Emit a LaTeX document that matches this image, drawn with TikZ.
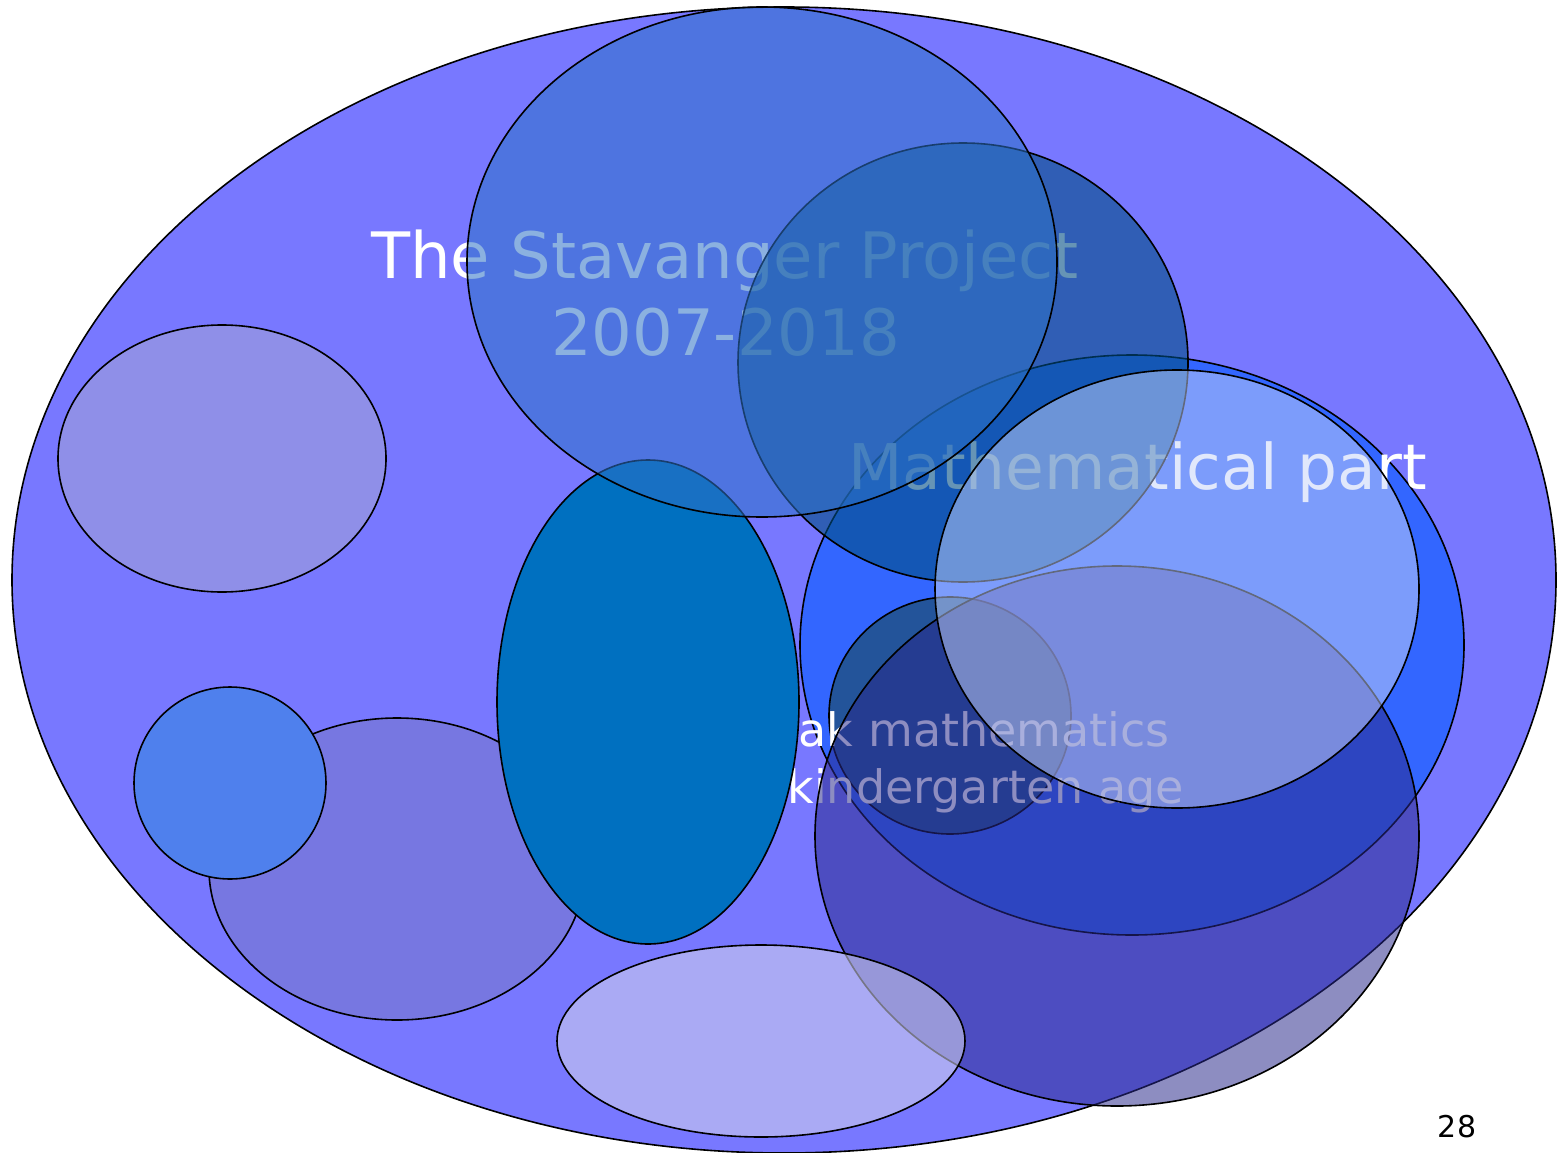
\documentclass[tikz,border=0pt]{standalone}
\usepackage{fontspec}
\setmainfont{DejaVu Sans}
\usetikzlibrary{shapes.geometric}
\definecolor{worldblue}{HTML}{7878FF}
\definecolor{ulblue}{HTML}{8F8FE8}
\definecolor{blblue}{HTML}{7777E1}
\definecolor{circblue}{HTML}{4F80ED}
\definecolor{bigblue}{HTML}{3366FF}
\definecolor{smalldark}{HTML}{23549A}
\definecolor{teal}{HTML}{0070C0}
\definecolor{navy}{HTML}{28288A}
\definecolor{deepblue}{HTML}{004E84}
\definecolor{topblue}{HTML}{2D71C7}
\definecolor{paleblue}{HTML}{C5D2F9}
\definecolor{lavender}{HTML}{D0D0EC}
\begin{document}
\begin{tikzpicture}[x=1pt,y=-1pt,
  blob/.style={ellipse, draw=black, line width=1.6pt, inner sep=0pt, outer sep=0pt},
  label/.style={text=white, inner sep=0pt}]
\fill[white] (0,0) rectangle (1557,1153);
\useasboundingbox (0,0) rectangle (1557,1153);
% background world
\node[blob, fill=worldblue, minimum width=1544pt, minimum height=1146pt] (world) at (784,580) {};
% left ellipses
\node[blob, fill=ulblue, minimum width=328pt, minimum height=267pt] (upleft) at (222,458.5) {};
\node[blob, fill=blblue, minimum width=376pt, minimum height=302pt] (lowleft) at (397,869) {};
\node[blob, fill=circblue, minimum width=192pt, minimum height=192pt] (circ) at (230,783) {};
% title text
\node[label, anchor=base, font=\fontsize{64}{77}\selectfont] (title1) at (725,278) {The Stavanger Project};
\node[label, anchor=base, font=\fontsize{64}{77}\selectfont] (title2) at (725.5,355) {2007-2018};
% big blue
\node[blob, fill=bigblue, minimum width=664pt, minimum height=580pt] (bigb) at (1132,645) {};
\node[label, anchor=base west, font=\fontsize{63}{75}\selectfont] (mathpart) at (848,489) {Mathematical part};
% small dark
\node[blob, fill=smalldark, minimum width=242pt, minimum height=237pt] (small) at (950,715.5) {};
% kindergarten text
\node[label, anchor=base east, font=\fontsize{46}{58}\selectfont] (speak) at (1170,746) {ak mathematics};
\node[label, anchor=base east, font=\fontsize{46}{58}\selectfont] (kinder) at (1184,803) {kindergarten age};
% teal
\node[blob, fill=teal, minimum width=302pt, minimum height=484pt] (tealell) at (648,702) {};
% navy translucent
\node[blob, fill=navy, fill opacity=0.53, minimum width=604pt, minimum height=540pt] (navyell) at (1117,836) {};
% deep blue translucent
\node[blob, fill=deepblue, fill opacity=0.6, minimum width=450pt, minimum height=439pt] (deep) at (963,362.5) {};
% top translucent
\node[blob, fill=topblue, fill opacity=0.55, minimum width=590pt, minimum height=510pt] (top) at (762,262) {};
% pale translucent
\node[blob, fill=paleblue, fill opacity=0.5, minimum width=484pt, minimum height=438pt] (pale) at (1177,589) {};
% lavender bottom
\node[blob, fill=lavender, fill opacity=0.57, minimum width=408pt, minimum height=192pt] (lav) at (761,1041) {};
% page number
\node[anchor=base, inner sep=0pt, font=\fontsize{30}{36}\selectfont] (page) at (1457,1137) {28};
\end{tikzpicture}
\end{document}
